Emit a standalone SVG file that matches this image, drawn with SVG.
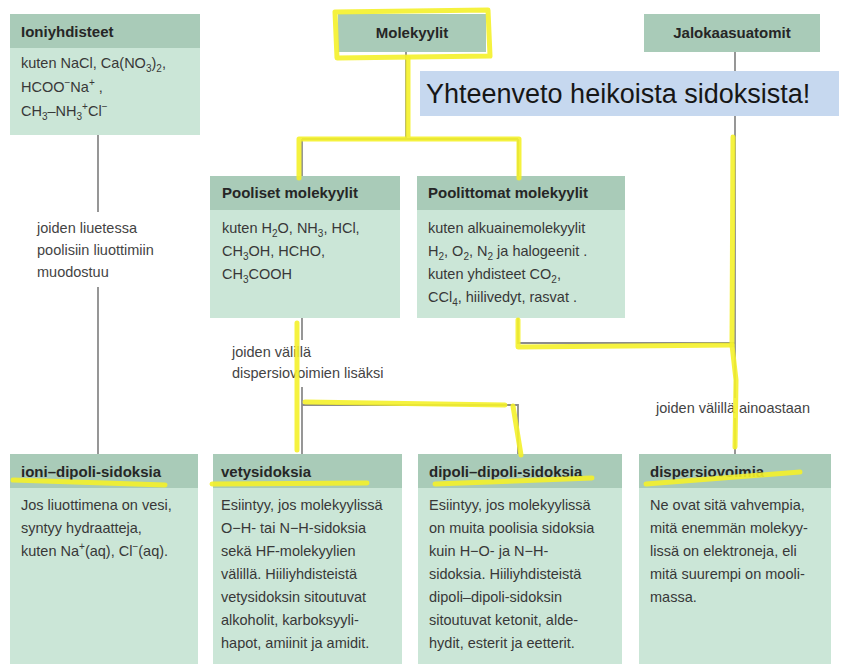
<svg xmlns="http://www.w3.org/2000/svg" width="842" height="666" viewBox="0 0 842 666">
<style>
.hd{fill:#a9cbb8}
.bd{fill:#cbe6d7}
.ht{font-family:"Liberation Sans",Arial,sans-serif;font-size:15px;font-weight:bold;fill:#262626}
.tx{font-family:"Liberation Sans",Arial,sans-serif;font-size:14.5px;fill:#383838}
.lb{font-family:"Liberation Sans",Arial,sans-serif;font-size:14.5px;fill:#444}
.sm{font-size:10px}
.gl{stroke:#8c8c8c;stroke-width:1.8;fill:none}
.yl{stroke:#f4f12a;stroke-width:5;fill:none;stroke-linecap:round;stroke-linejoin:round;opacity:0.9}
</style>
<rect width="842" height="666" fill="#ffffff"/>

<g id="connectors">
<path class="gl" d="M98 135V212M98 287V454"/>
<path class="gl" d="M406 52V139M302 139H518M302 139V176M518 139V176"/>
<path class="gl" d="M735 52V398M735 418V454"/>
<path class="gl" d="M518 318V343H735"/>
<path class="gl" d="M302 318V340M302 387V454M302 405H518V454"/>
</g>

<g id="banner">
<rect x="420" y="71" width="419" height="45" fill="#c6d8ef"/>
<text x="426" y="103" font-family="'Liberation Sans',Arial,sans-serif" font-size="27" fill="#161616">Yhteenveto heikoista sidoksista!</text>
</g>

<g id="ioniyhdisteet">
<rect class="bd" x="10" y="14" width="190" height="121"/>
<rect class="hd" x="10" y="14" width="190" height="34"/>
<text class="ht" x="21" y="37">Ioniyhdisteet</text>
<text class="tx" x="21" y="68">kuten NaCl, Ca(NO<tspan class="sm" dy="4">3</tspan><tspan dy="-4">)</tspan><tspan class="sm" dy="4">2</tspan><tspan dy="-4">,</tspan></text>
<text class="tx" x="21" y="92">HCOO<tspan class="sm" dy="-6">−</tspan><tspan dy="6">Na</tspan><tspan class="sm" dy="-6">+</tspan><tspan dy="6"> ,</tspan></text>
<text class="tx" x="21" y="116">CH<tspan class="sm" dy="4">3</tspan><tspan dy="-4">–NH</tspan><tspan class="sm" dy="4">3</tspan><tspan class="sm" dy="-10">+</tspan><tspan dy="6">Cl</tspan><tspan class="sm" dy="-6">−</tspan></text>
</g>

<g id="molekyylit">
<rect class="hd" x="338" y="14" width="148" height="38"/>
<text class="ht" x="412" y="38" text-anchor="middle">Molekyylit</text>
</g>

<g id="jalokaasuatomit">
<rect class="hd" x="644" y="14" width="176" height="38"/>
<text class="ht" x="732" y="38" text-anchor="middle">Jalokaasuatomit</text>
</g>

<g id="pooliset">
<rect class="bd" x="210" y="176" width="190" height="142"/>
<rect class="hd" x="210" y="176" width="190" height="34"/>
<text class="ht" x="222" y="198">Pooliset molekyylit</text>
<text class="tx" x="222" y="233">kuten H<tspan class="sm" dy="4">2</tspan><tspan dy="-4">O, NH</tspan><tspan class="sm" dy="4">3</tspan><tspan dy="-4">, HCl,</tspan></text>
<text class="tx" x="222" y="256">CH<tspan class="sm" dy="4">3</tspan><tspan dy="-4">OH, HCHO,</tspan></text>
<text class="tx" x="222" y="279">CH<tspan class="sm" dy="4">3</tspan><tspan dy="-4">COOH</tspan></text>
</g>

<g id="poolittomat">
<rect class="bd" x="417" y="176" width="208" height="142"/>
<rect class="hd" x="417" y="176" width="208" height="34"/>
<text class="ht" x="428" y="198">Poolittomat molekyylit</text>
<text class="tx" x="428" y="233">kuten alkuainemolekyylit</text>
<text class="tx" x="428" y="256">H<tspan class="sm" dy="4">2</tspan><tspan dy="-4">, O</tspan><tspan class="sm" dy="4">2</tspan><tspan dy="-4">, N</tspan><tspan class="sm" dy="4">2</tspan><tspan dy="-4"> ja halogeenit .</tspan></text>
<text class="tx" x="428" y="279">kuten yhdisteet CO<tspan class="sm" dy="4">2</tspan><tspan dy="-4">,</tspan></text>
<text class="tx" x="428" y="302">CCl<tspan class="sm" dy="4">4</tspan><tspan dy="-4">, hiilivedyt, rasvat .</tspan></text>
</g>

<g id="labels">
<text class="lb" x="37" y="233">joiden liuetessa</text>
<text class="lb" x="37" y="255">poolisiin liuottimiin</text>
<text class="lb" x="37" y="277">muodostuu</text>
<text class="lb" x="232" y="357">joiden välillä</text>
<text class="lb" x="232" y="378">dispersiovoimien lisäksi</text>
<text class="lb" x="656" y="413">joiden välillä ainoastaan</text>
</g>

<g id="ioni-dipoli">
<rect class="bd" x="10" y="454" width="188" height="210"/>
<rect class="hd" x="10" y="454" width="188" height="34"/>
<text class="ht" x="21" y="477">ioni–dipoli-sidoksia</text>
<text class="tx" x="21" y="510">Jos liuottimena on vesi,</text>
<text class="tx" x="21" y="533">syntyy hydraatteja,</text>
<text class="tx" x="21" y="556">kuten Na<tspan class="sm" dy="-6">+</tspan><tspan dy="6">(aq), Cl</tspan><tspan class="sm" dy="-6">−</tspan><tspan dy="6">(aq).</tspan></text>
</g>

<g id="vetysidoksia">
<rect class="bd" x="213" y="454" width="189" height="210"/>
<rect class="hd" x="213" y="454" width="189" height="34"/>
<text class="ht" x="221" y="477">vetysidoksia</text>
<text class="tx" x="221" y="510">Esiintyy, jos molekyylissä</text>
<text class="tx" x="221" y="533">O−H- tai N−H-sidoksia</text>
<text class="tx" x="221" y="556">sekä HF-molekyylien</text>
<text class="tx" x="221" y="579">välillä. Hiiliyhdisteistä</text>
<text class="tx" x="221" y="602">vetysidoksin sitoutuvat</text>
<text class="tx" x="221" y="625">alkoholit, karboksyyli-</text>
<text class="tx" x="221" y="648">hapot, amiinit ja amidit.</text>
</g>

<g id="dipoli-dipoli">
<rect class="bd" x="418" y="454" width="204" height="210"/>
<rect class="hd" x="418" y="454" width="204" height="34"/>
<text class="ht" x="429" y="477">dipoli–dipoli-sidoksia</text>
<text class="tx" x="429" y="510">Esiintyy, jos molekyylissä</text>
<text class="tx" x="429" y="533">on muita poolisia sidoksia</text>
<text class="tx" x="429" y="556">kuin H−O- ja N−H-</text>
<text class="tx" x="429" y="579">sidoksia. Hiiliyhdisteistä</text>
<text class="tx" x="429" y="602">dipoli–dipoli-sidoksin</text>
<text class="tx" x="429" y="625">sitoutuvat ketonit, alde-</text>
<text class="tx" x="429" y="648">hydit, esterit ja eetterit.</text>
</g>

<g id="dispersiovoimia">
<rect class="bd" x="639" y="454" width="192" height="210"/>
<rect class="hd" x="639" y="454" width="192" height="34"/>
<text class="ht" x="650" y="477">dispersiovoimia</text>
<text class="tx" x="650" y="510">Ne ovat sitä vahvempia,</text>
<text class="tx" x="650" y="533">mitä enemmän molekyy-</text>
<text class="tx" x="650" y="556">lissä on elektroneja, eli</text>
<text class="tx" x="650" y="579">mitä suurempi on mooli-</text>
<text class="tx" x="650" y="602">massa.</text>
</g>

<g id="highlights">
<path class="yl" d="M335 12L488 10L490 56L337 58Z"/>
<path class="yl" d="M408 58V139M299 139H519M299 139V178M519 139V178"/>
<path class="yl" d="M733 137L732 345L518 347V320"/>
<path class="yl" d="M732 345L736 380L735 447"/>
<path class="yl" d="M297 323V450M305 402L505 405M513 406L521 455"/>
<path class="yl" d="M13 480L165 485"/>
<path class="yl" d="M212 484L367 483"/>
<path class="yl" d="M435 484L592 478"/>
<path class="yl" d="M646 484L800 472"/>
</g>
</svg>
